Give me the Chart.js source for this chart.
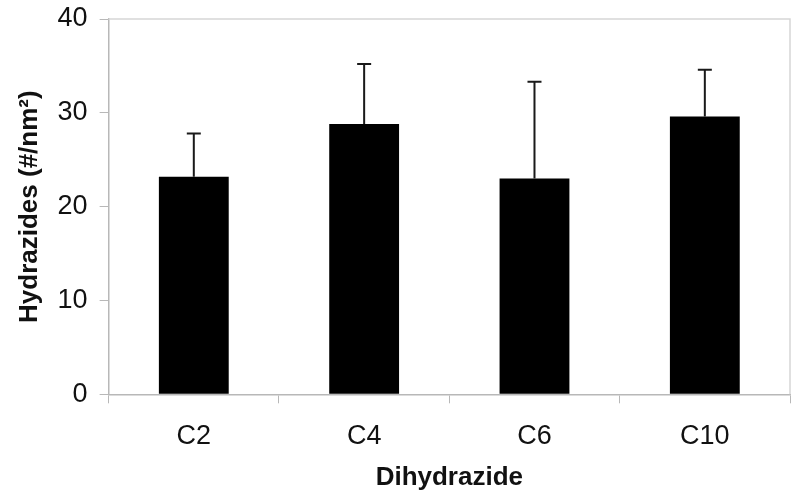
<!DOCTYPE html>
<html>
<head>
<meta charset="utf-8">
<script src="https://cdn.jsdelivr.net/npm/chart.js@4"></script>
<style>
  html, body { margin: 0; padding: 0; background: #fff; }
  #wrap { width: 800px; height: 501px; }
</style>
</head>
<body>
<div id="wrap"><canvas id="hydChart" width="800" height="501"></canvas></div>
<script>
// values
const categories = ['C2', 'C4', 'C6', 'C10'];
const means = [23.2, 28.8, 23.0, 29.6];
const errors = [4.6, 6.4, 10.3, 5.0];
const yTicks = [0, 10, 20, 30, 40];

const axisGray = '#b8b8b8';
const fontFam = "'Liberation Sans', Arial, sans-serif";

// top + right frame of the plot area
const frame = {
    id: 'frame',
    beforeDatasetsDraw(chart) {
        const { ctx, chartArea: a } = chart;
        ctx.save();
        ctx.strokeStyle = '#d6d6d6';
        ctx.lineWidth = 1.5;
        ctx.beginPath();
        ctx.moveTo(a.left, a.top);
        ctx.lineTo(a.right, a.top);
        ctx.lineTo(a.right, a.bottom);
        ctx.stroke();
        ctx.restore();
    }
};

// upward error bars only
const errBars = {
    id: 'errBars',
    afterDatasetsDraw(chart) {
        const { ctx } = chart;
        const y = chart.scales.y;
        const meta = chart.getDatasetMeta(0);
        ctx.save();
        ctx.strokeStyle = '#1a1a1a';
        ctx.lineWidth = 2;
        meta.data.forEach((bar, i) => {
            const top = y.getPixelForValue(means[i] + errors[i]);
            ctx.beginPath();
            ctx.moveTo(bar.x, bar.y);
            ctx.lineTo(bar.x, top);
            ctx.moveTo(bar.x - 7, top);
            ctx.lineTo(bar.x + 7, top);
            ctx.stroke();
        });
        ctx.restore();
    }
};

new Chart(document.getElementById('hydChart').getContext('2d'), {
    type: 'bar',
    data: {
        labels: categories,
        datasets: [{
            data: means,
            backgroundColor: '#000',
            borderWidth: 0,
            barPercentage: 0.41,
            categoryPercentage: 1
        }]
    },
    options: {
        responsive: false,
        animation: false,
        layout: { padding: { left: 12, right: 10, top: 3, bottom: 0 } },
        plugins: {
            legend: { display: false },
            tooltip: { enabled: false }
        },
        scales: {
            x: {
                grid: {
                    offset: true,
                    drawOnChartArea: false,
                    drawTicks: true,
                    tickLength: 9,
                    color: axisGray
                },
                border: { color: axisGray, width: 1.5 },
                ticks: {
                    color: '#111',
                    padding: 17,
                    font: { family: fontFam, size: 27 }
                },
                title: {
                    display: true,
                    text: 'Dihydrazide',
                    color: '#111',
                    padding: { top: -7.3, bottom: 7.4 },
                    font: { family: fontFam, size: 26, weight: 'bold' }
                }
            },
            y: {
                min: 0,
                max: 40,
                afterBuildTicks(scale) {
                    scale.ticks = yTicks.map(v => ({ value: v }));
                },
                afterFit(scale) {
                    // keep the plot top close to the canvas edge
                    scale.paddingTop = 19;
                },
                grid: {
                    drawOnChartArea: false,
                    drawTicks: true,
                    tickLength: 9,
                    color: axisGray
                },
                border: { color: axisGray, width: 1.5 },
                ticks: {
                    color: '#111',
                    padding: 12,
                    font: { family: fontFam, size: 27 }
                },
                title: {
                    display: true,
                    text: 'Hydrazides (#/nm²)',
                    color: '#111',
                    padding: { top: 2.4, bottom: 0 },
                    font: { family: fontFam, size: 26, weight: 'bold' }
                }
            }
        }
    },
    plugins: [frame, errBars]
});
</script>
</body>
</html>
